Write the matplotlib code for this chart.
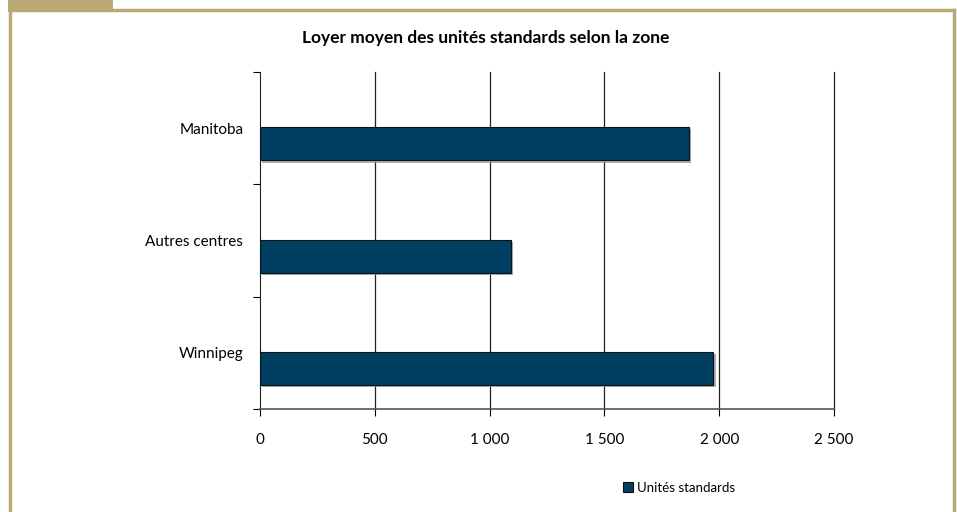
import matplotlib
matplotlib.use("Agg")
import matplotlib.pyplot as plt
import matplotlib.patheffects as pe
from matplotlib.patches import Rectangle
from matplotlib.lines import Line2D

plt.rcParams['font.family'] = ['Lato', 'DejaVu Sans']

# average rent by zone, bottom to top
zones = ['Winnipeg', 'Autres centres', 'Manitoba']
rent = [1975, 1095, 1870]
series_name = 'Unités standards'
xticks = [0, 500, 1000, 1500, 2000, 2500]
xtick_labels = ['0', '500', '1 000', '1 500', '2 000', '2 500']

bar_color = '#003f62'
tan = '#bca874'

fig = plt.figure(figsize=(9.57, 5.12), dpi=100)

# page frame
fig.add_artist(Rectangle((8 / 957, 1 - 12 / 512), 105 / 957, 12 / 512,
                         transform=fig.transFigure, color=tan, lw=0))
fig.add_artist(Line2D([9.5 / 957, 9.5 / 957], [0, 1], transform=fig.transFigure,
                      color=tan, lw=2.5))
fig.add_artist(Line2D([9.5 / 957, 953.5 / 957], [1 - 10 / 512, 1 - 10 / 512],
                      transform=fig.transFigure, color=tan, lw=2.5))
fig.add_artist(Line2D([953.5 / 957, 953.5 / 957], [0, 1 - 10 / 512],
                      transform=fig.transFigure, color=tan, lw=2.5))

ax = fig.add_axes([260 / 957, 1 - 409 / 512, 574 / 957, 337 / 512])
ypos = list(range(len(zones)))
# bars sit a little below the middle of each category band
bars = ax.barh([y - 0.14 for y in ypos], rent, height=0.295, color=bar_color,
               edgecolor='#111111', linewidth=0.8, zorder=3)
for b in bars:
    b.set_path_effects([pe.SimplePatchShadow(offset=(1.5, -1.5), shadow_rgbFace='#999999', alpha=0.8),
                        pe.Normal()])

ax.set_xlim(0, 2500)
ax.set_ylim(-0.5, len(zones) - 0.5)
ax.set_xticks(xticks)
ax.set_xticklabels(xtick_labels, fontsize=11)
ax.set_yticks(ypos)
ax.set_yticklabels(zones, fontsize=11)
ax.set_yticks([i - 0.5 for i in range(len(zones) + 1)], minor=True)
ax.tick_params(axis='y', which='major', length=0, pad=12)
ax.tick_params(axis='y', which='minor', length=5, direction='out', width=0.8)
ax.tick_params(axis='x', length=5, direction='out', width=0.8, pad=12)
for x in xticks[1:]:
    ax.axvline(x, color='#222222', lw=0.9, zorder=0, clip_on=False)
ax.spines['top'].set_visible(False)
ax.spines['right'].set_visible(False)
ax.spines['left'].set_color('#222222')
ax.spines['bottom'].set_color('#555555')
ax.spines['bottom'].set_linewidth(1.2)

fig.text(486 / 957, 1 - 38 / 512, 'Loyer moyen des unités standards selon la zone',
         ha='center', va='center', fontsize=12.5, fontweight='bold')

handle = Rectangle((0, 0), 1, 1, facecolor=bar_color, edgecolor='#111111', lw=0.8)
fig.legend([handle], [series_name], loc='center', bbox_to_anchor=(679 / 957, 1 - 488 / 512),
           frameon=False, fontsize=9.5, handlelength=0.8, handleheight=0.8, handletextpad=0.3)

fig.savefig('out.png', dpi=100, facecolor='white')
